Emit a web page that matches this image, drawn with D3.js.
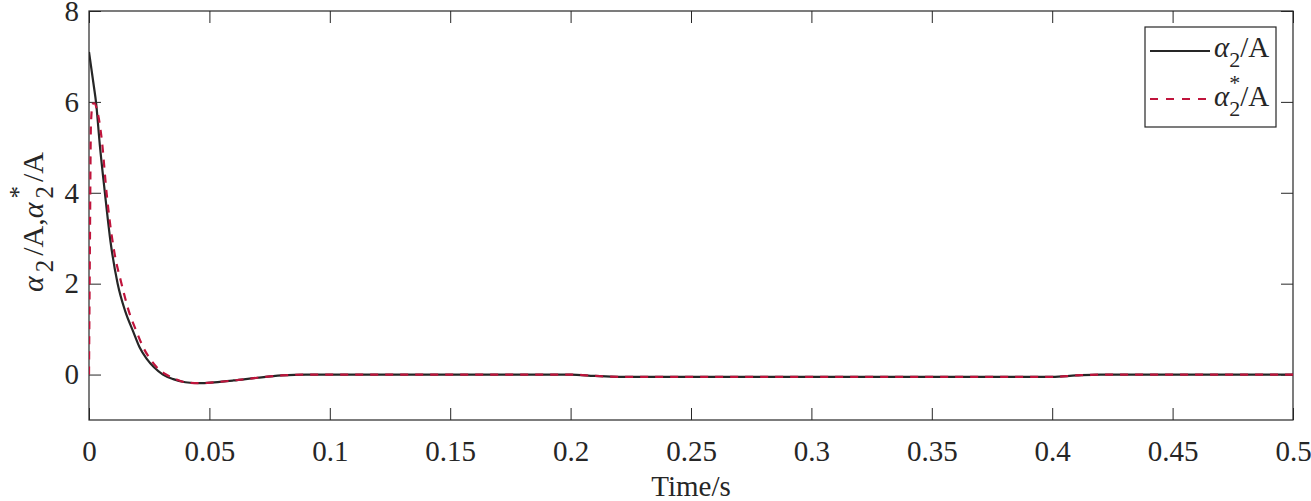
<!DOCTYPE html>
<html>
<head>
  <meta charset="utf-8">
  <title>alpha2 response</title>
  <script src="https://d3js.org/d3.v7.min.js"></script>
  <style>
    body { margin: 0; background: #fff; }
    text { font-family: "Liberation Serif", "Times New Roman", serif; fill: #262626; }
  </style>
</head>
<body>
<svg id="chart"></svg>
<script>
  // measured alpha2 (black, solid)
  var tMeas = [0, 0.002, 0.0029, 0.0045, 0.0066, 0.009, 0.0119, 0.015, 0.0184, 0.021, 0.0239, 0.027,
    0.0307, 0.035, 0.04, 0.046, 0.052, 0.06, 0.07, 0.08, 0.09, 0.1, 0.15, 0.2, 0.21, 0.22,
    0.3, 0.4, 0.41, 0.42, 0.5];
  var vMeas = [7.1, 6.35, 6.0, 5.05, 4.0, 2.9, 2.0, 1.4, 0.94, 0.6, 0.35, 0.16,
    0.0, -0.1, -0.17, -0.19, -0.17, -0.13, -0.07, -0.02, 0.0, 0.0, 0.0, 0.0, -0.03, -0.05,
    -0.05, -0.05, -0.02, 0.0, 0.0];

  // reference alpha2* (red, dashed)
  var tRef = [0, 0.0004, 0.0008, 0.0015, 0.0022, 0.0032, 0.0053, 0.0073, 0.0084, 0.0105, 0.0135,
    0.0165, 0.0198, 0.0225, 0.0253, 0.0285, 0.032, 0.036, 0.04, 0.046, 0.052, 0.06, 0.07,
    0.08, 0.09, 0.1, 0.15, 0.2, 0.21, 0.22, 0.3, 0.4, 0.41, 0.42, 0.5];
  var vRef = [0, 3.0, 5.5, 5.95, 5.97, 5.85, 5.17, 4.0, 3.47, 2.7, 2.0,
    1.4, 0.94, 0.6, 0.35, 0.14, 0.0, -0.1, -0.17, -0.19, -0.17, -0.13, -0.07,
    -0.02, 0.0, 0.0, 0.0, 0.0, -0.03, -0.05, -0.05, -0.05, -0.02, 0.0, 0.0];

  var xTicks = [0, 0.05, 0.1, 0.15, 0.2, 0.25, 0.3, 0.35, 0.4, 0.45, 0.5];
  var yTicks = [0, 2, 4, 6, 8];

  var width = 1311, height = 501;
  var margin = { left: 89, right: 18, top: 11, bottom: 81 };
  var pw = width - margin.left - margin.right;
  var ph = height - margin.top - margin.bottom;
  var fontSz = 29;

  var svg = d3.select("#chart")
    .attr("width", width)
    .attr("height", height);

  var g = svg.append("g")
    .attr("transform", "translate(" + margin.left + "," + margin.top + ")");

  var x = d3.scaleLinear().domain([0, 0.5]).range([0, pw]);
  var y = d3.scaleLinear().domain([-1, 8]).range([ph, 0]);

  svg.append("defs").append("clipPath")
    .attr("id", "clip")
    .append("rect")
    .attr("width", pw)
    .attr("height", ph);

  var fmt = d => String(+d.toFixed(2));

  // axes with inward ticks, mirrored on top/right
  function styleAxis(sel) {
    sel.attr("font-family", null).attr("font-size", null);
    sel.select(".domain").remove();
    sel.selectAll(".tick line").attr("stroke", "#262626");
    sel.selectAll("text")
      .style("font-size", fontSz + "px")
      .attr("fill", "#262626");
  }

  g.append("g")
    .attr("transform", "translate(0," + ph + ")")
    .call(d3.axisBottom(x).tickValues(xTicks).tickFormat(fmt).tickSize(-12).tickPadding(20))
    .call(styleAxis);

  g.append("g")
    .call(d3.axisTop(x).tickValues(xTicks).tickFormat("").tickSize(-12))
    .call(styleAxis);

  g.append("g")
    .call(d3.axisLeft(y).tickValues(yTicks).tickFormat(d3.format("d")).tickSize(-12).tickPadding(10))
    .call(styleAxis);

  g.append("g")
    .attr("transform", "translate(" + pw + ",0)")
    .call(d3.axisRight(y).tickValues(yTicks).tickFormat("").tickSize(-12))
    .call(styleAxis);

  g.append("rect")
    .attr("width", pw)
    .attr("height", ph)
    .attr("fill", "none")
    .attr("stroke", "#262626")
    .attr("stroke-width", 1.2);

  var line = d3.line()
    .x(d => x(d[0]))
    .y(d => y(d[1]))
    .curve(d3.curveMonotoneX);

  var plot = g.append("g").attr("clip-path", "url(#clip)");

  plot.append("path")
    .datum(d3.zip(tMeas, vMeas))
    .attr("fill", "none")
    .attr("stroke", "#262626")
    .attr("stroke-width", 2.2)
    .attr("d", line);

  plot.append("path")
    .datum(d3.zip(tRef, vRef))
    .attr("fill", "none")
    .attr("stroke", "#c0143c")
    .attr("stroke-width", 2.2)
    .attr("stroke-dasharray", "8,7")
    .attr("d", line);

  // alpha_2 (optionally with star) followed by rest; gap = extra spacing
  function alphaLabel(textSel, star, rest, subSz, gap) {
    textSel.append("tspan").style("font-style", "italic").text("\u03b1");
    textSel.append("tspan").attr("dx", gap).attr("dy", 10).style("font-size", subSz + "px").text("2");
    if (star) {
      textSel.append("tspan").attr("dx", -subSz * 0.5).attr("dy", -26)
        .style("font-size", subSz + "px").text("*");
      textSel.append("tspan").attr("dx", gap).attr("dy", 16).text(rest);
    } else {
      textSel.append("tspan").attr("dx", gap).attr("dy", -10).text(rest);
    }
  }

  // x label
  svg.append("text")
    .attr("x", margin.left + pw / 2)
    .attr("y", 496)
    .attr("text-anchor", "middle")
    .style("font-size", fontSz + "px")
    .text("Time/s");

  // y label
  var ylab = svg.append("text")
    .attr("transform", "translate(43,222) rotate(-90)")
    .attr("text-anchor", "middle")
    .style("font-size", "30px");
  alphaLabel(ylab, false, "/A,", 25, 4);
  alphaLabel(ylab, true, "/A", 25, 4);

  // legend
  var legend = svg.append("g");
  legend.append("rect")
    .attr("x", 1145).attr("y", 27)
    .attr("width", 131).attr("height", 100)
    .attr("fill", "#fff")
    .attr("stroke", "#262626")
    .attr("stroke-width", 1.2);

  legend.append("line")
    .attr("x1", 1150).attr("x2", 1210)
    .attr("y1", 51).attr("y2", 51)
    .attr("stroke", "#262626").attr("stroke-width", 2.2);

  legend.append("line")
    .attr("x1", 1150).attr("x2", 1210)
    .attr("y1", 99).attr("y2", 99)
    .attr("stroke", "#c0143c").attr("stroke-width", 2.2)
    .attr("stroke-dasharray", "8,8");

  var l1 = legend.append("text")
    .attr("x", 1214).attr("y", 57)
    .style("font-size", fontSz + "px");
  alphaLabel(l1, false, "/A", 22, 0);

  var l2 = legend.append("text")
    .attr("x", 1214).attr("y", 106)
    .style("font-size", fontSz + "px");
  alphaLabel(l2, true, "/A", 22, 0);
</script>
</body>
</html>
